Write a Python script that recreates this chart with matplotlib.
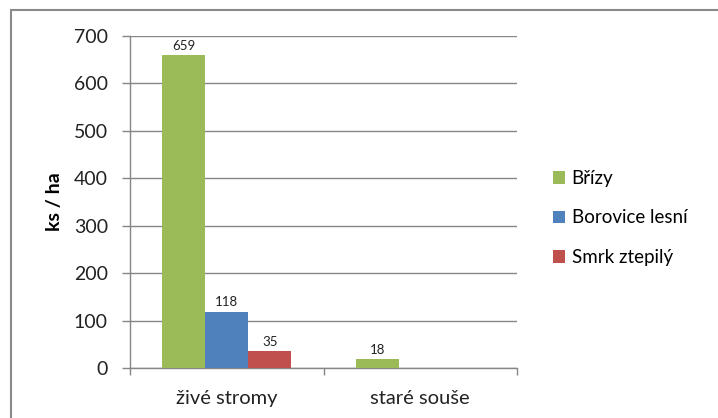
import matplotlib.pyplot as plt
import numpy as np
from matplotlib.patches import Rectangle

plt.rcParams['font.family'] = ['Lato', 'DejaVu Sans']

categories = ['živé stromy', 'staré souše']
series = ['Břízy', 'Borovice lesní', 'Smrk ztepilý']
values = {
    'Břízy': [659, 18],
    'Borovice lesní': [118, 0],
    'Smrk ztepilý': [35, 0],
}
colors = ['#9BBB59', '#4F81BD', '#C0504D']

grid_col = '#868686'

fig = plt.figure(figsize=(7.18, 4.18), dpi=100)
ax = fig.add_axes([130 / 718, 1 - 368 / 418, (517 - 130) / 718, (368 - 36) / 418])

# chart frame (only top and left edges fall inside the image)
fig.patches.append(Rectangle((11 / 718, -0.1), 1.2, 1.1 - 10 / 418,
                             transform=fig.transFigure, fill=False,
                             edgecolor='#8a8a8a', linewidth=1.5, zorder=0))

x = np.arange(len(categories))
w = 0.222
for i, (name, col) in enumerate(zip(series, colors)):
    vals = values[name]
    pos = x + (i - 1) * w
    ax.bar(pos, vals, width=w, color=col, label=name, zorder=3)
    for p, v in zip(pos, vals):
        if v > 0:
            ax.text(p, v + 8, str(v), ha='center', va='bottom', fontsize=9.5,
                    color='#222222')

ax.set_xlim(-0.5, 1.5)
ax.set_ylim(0, 700)
ax.set_yticks(range(0, 701, 100))
ax.yaxis.grid(True, color=grid_col, linewidth=1)
ax.set_axisbelow(True)

# boundary ticks between categories, labels centered under groups
ax.set_xticks([-0.5, 0.5, 1.5])
ax.set_xticklabels([])
ax.set_xticks(x, minor=True)
ax.set_xticklabels(categories, minor=True, fontsize=14.5, color='#222222')
ax.tick_params(axis='x', which='major', length=5, color=grid_col, width=1)
ax.tick_params(axis='x', which='minor', length=0, pad=16)
ax.tick_params(axis='y', length=6, color=grid_col, width=1, labelsize=14,
               labelcolor='#222222', pad=10)

for s in ['top', 'right']:
    ax.spines[s].set_visible(False)
for s in ['left', 'bottom']:
    ax.spines[s].set_color(grid_col)
    ax.spines[s].set_linewidth(1)

ax.set_ylabel('ks / ha', fontsize=14, fontweight='bold', labelpad=8)

fig.legend(loc='center left', bbox_to_anchor=(536 / 718, 1 - 218 / 418),
           frameon=False, fontsize=13.5, handlelength=0.65, handleheight=0.65,
           handletextpad=0.35, labelspacing=1.2)

fig.savefig('out.png', dpi=100)
